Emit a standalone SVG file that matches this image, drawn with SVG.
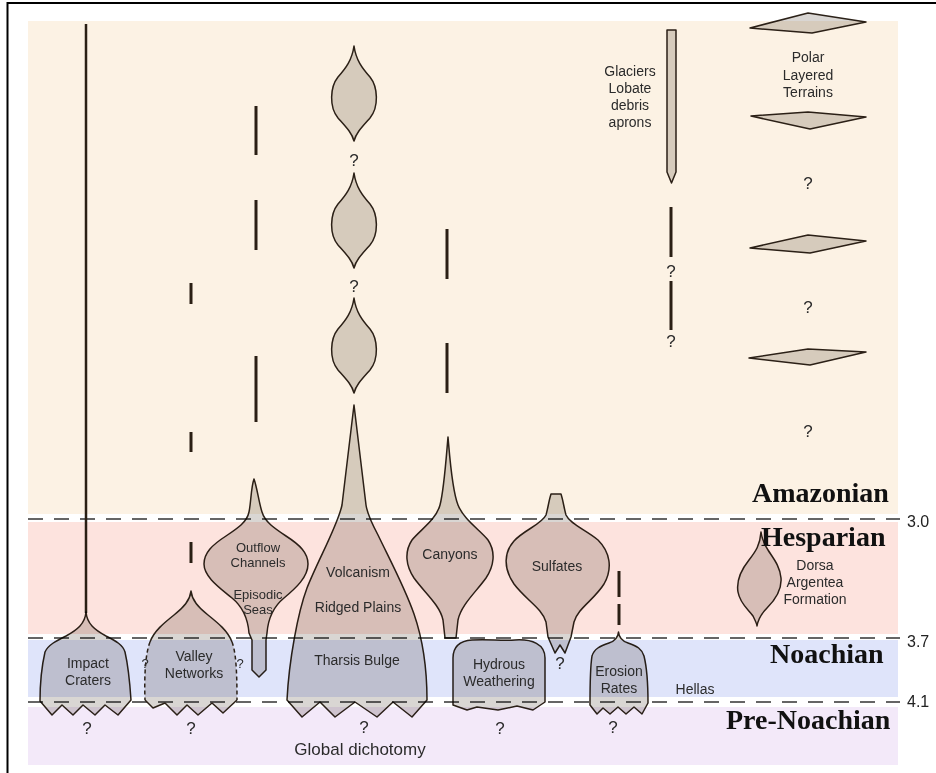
<svg xmlns="http://www.w3.org/2000/svg" width="936" height="773" viewBox="0 0 936 773">
<defs>
<style>
.shape{fill:#d9d6d3;mix-blend-mode:multiply;stroke:#2b2118;stroke-width:1.5;stroke-linejoin:round}
.fillonly{fill:#d9d6d3;mix-blend-mode:multiply;stroke:none}
.ol{fill:none;stroke:#2b2118;stroke-width:1.5;stroke-linejoin:round}
.olds{fill:none;stroke:#2b2118;stroke-width:1.5;stroke-dasharray:4 3}
.lbl{font-family:"Liberation Sans",Arial,Helvetica,sans-serif;font-size:14px;fill:#2b2b2b;text-anchor:middle}
.q{font-family:"Liberation Sans",Arial,Helvetica,sans-serif;font-size:17px;fill:#2b2b2b;text-anchor:middle}
.qs{font-family:"Liberation Sans",Arial,Helvetica,sans-serif;font-size:13px;fill:#2b2b2b;text-anchor:middle}
.era{font-family:"Liberation Serif","Times New Roman",serif;font-weight:bold;font-size:28px;fill:#111}
.num{font-family:"Liberation Sans",Arial,Helvetica,sans-serif;font-size:16px;fill:#222}
.bar{stroke:#2a1f14;stroke-width:3;fill:none}
.div{stroke:#333;stroke-width:1.5;stroke-dasharray:15 11;fill:none}
</style>
</defs>
<rect x="0" y="0" width="936" height="773" fill="#fff"/>
<g id="bands">
<rect x="28" y="21" width="870" height="493" fill="#fcf2e4"/>
<rect x="28" y="522" width="870" height="112" fill="#fde3de"/>
<rect x="28" y="640" width="870" height="57" fill="#dfe4fa"/>
<rect x="28" y="707" width="870" height="58" fill="#f3e9f9"/>
<line class="div" x1="28" y1="519" x2="900" y2="519"/>
<line class="div" x1="28" y1="638" x2="900" y2="638"/>
<line class="div" x1="28" y1="702" x2="900" y2="702"/>
</g>
<rect x="7.5" y="3" width="940" height="780" fill="none" stroke="#000" stroke-width="2"/>
<g id="connectors">
<line class="bar" x1="86" y1="24" x2="86" y2="613" style="stroke-width:2.5"/>
<line class="bar" x1="191" y1="283" x2="191" y2="304"/>
<line class="bar" x1="191" y1="432" x2="191" y2="452"/>
<line class="bar" x1="191" y1="542" x2="191" y2="563"/>
<line class="bar" x1="256" y1="106" x2="256" y2="155"/>
<line class="bar" x1="256" y1="200" x2="256" y2="250"/>
<line class="bar" x1="256" y1="356" x2="256" y2="422"/>
<line class="bar" x1="447" y1="229" x2="447" y2="279"/>
<line class="bar" x1="447" y1="343" x2="447" y2="393"/>
<line class="bar" x1="619" y1="571" x2="619" y2="597"/>
<line class="bar" x1="619" y1="604" x2="619" y2="625"/>
<line class="bar" x1="671" y1="207" x2="671" y2="257"/>
<line class="bar" x1="671" y1="281" x2="671" y2="330"/>
</g>
<g id="impact-craters">
<path class="shape" d="M86,612 C87,624 95,630 106,636 C116,641 123,645 125,652 C128,665 130,685 131,700 L118,715 L105,705 L95,715 L83,705 L73,715 L62,705 L52,715 L40,701 C40,685 42,665 45,652 C48,645 56,641 66,636 C77,630 85,624 86,612 Z"/>
<text class="lbl" x="88" y="668">Impact</text>
<text class="lbl" x="88" y="685">Craters</text>
<text class="q" x="87" y="734">?</text>
</g>
<g id="valley-networks">
<path class="fillonly" d="M191,591 C192,601 199,608 208,615 C218,623 228,631 232,642 C236,652 237,672 237,700 L223,713 L212,703 L198,715 L187,705 L177,715 L165,703 L153,708 L145,700 C144,672 146,652 150,642 C154,631 164,623 174,615 C183,608 190,601 191,591 Z"/>
<path class="ol" d="M150,642 C154,631 164,623 174,615 C183,608 190,601 191,591 C192,601 199,608 208,615 C218,623 228,631 232,642"/>
<path class="olds" d="M150,642 C146,652 144,672 145,700 M232,642 C236,652 237,672 237,700"/>
<path class="ol" d="M145,700 L153,708 L165,703 L177,715 L187,705 L198,715 L212,703 L223,713 L237,700"/>
<text class="lbl" x="194" y="661">Valley</text>
<text class="lbl" x="194" y="678">Networks</text>
<text class="qs" x="145" y="668">?</text>
<text class="qs" x="240" y="668">?</text>
<text class="q" x="191" y="734">?</text>
</g>
<g id="outflow-channels">
<path class="shape" d="M254,479 C251,487 251,503 249,512 C247,522 238,528 226,536 C212,545 204,553 204,564 C204,577 220,588 232,598 C243,607 248,620 249,633 L252,640 L252,670 L259,677 L266,670 L266,640 L267,633 C268,620 273,607 284,598 C296,588 308,577 308,564 C308,553 300,545 286,536 C274,528 265,522 262,512 C259,503 257,487 254,479 Z"/>
<text class="lbl" x="258" y="552" style="font-size:13px">Outflow</text>
<text class="lbl" x="258" y="567" style="font-size:13px">Channels</text>
<text class="lbl" x="258" y="599" style="font-size:13px">Episodic</text>
<text class="lbl" x="258" y="614" style="font-size:13px">Seas</text>
</g>
<g id="volcanism">
<path class="shape" d="M354,46 C356,60 362,68 370,77 C378,87 379,107 370,118 C362,127 356,133 354,141 C352,133 346,127 338,118 C329,107 330,87 338,77 C346,68 352,60 354,46 Z"/>
<text class="q" x="354" y="166">?</text>
<path class="shape" d="M354,173 C356,187 362,195 370,204 C378,214 379,234 370,245 C362,254 356,260 354,268 C352,260 346,254 338,245 C329,234 330,214 338,204 C346,195 352,187 354,173 Z"/>
<text class="q" x="354" y="292">?</text>
<path class="shape" d="M354,298 C356,312 362,320 370,329 C378,339 379,359 370,370 C362,379 356,385 354,393 C352,385 346,379 338,370 C329,359 330,339 338,329 C346,320 352,312 354,298 Z"/>
<path class="shape" d="M354,405 L342,505 C338,525 318,560 307,588 C298,612 289,660 287,700 L302,717 L320,702 L335,717 L355,702 L377,717 L393,702 L412,717 L427,700 C427,668 423,640 414,614 C405,588 390,560 378,535 C370,520 367,512 366,505 Z"/>
<text class="lbl" x="358" y="577">Volcanism</text>
<text class="lbl" x="358" y="612">Ridged Plains</text>
<text class="lbl" x="357" y="665">Tharsis Bulge</text>
<text class="q" x="364" y="733">?</text>
<text class="lbl" x="360" y="755" style="font-size:17px">Global dichotomy</text>
</g>
<g id="canyons">
<path class="shape" d="M448,437 C446,460 444,490 440,505 C436,520 420,530 412,540 C404,552 406,566 414,578 C424,592 440,605 443,620 L445,638 L456,638 L458,620 C461,605 476,592 486,578 C494,566 496,552 488,540 C480,530 464,520 458,505 C452,490 450,460 448,437 Z"/>
<text class="lbl" x="450" y="559">Canyons</text>
</g>
<g id="sulfates">
<path class="shape" d="M551,494 L561,494 C563,500 564,508 566,515 C570,524 586,530 598,540 C610,552 613,568 604,584 C594,600 578,608 574,622 L571,637 L565,653 L560,645 L555,653 L548,637 L546,622 C542,608 526,600 514,584 C503,568 504,552 514,541 C524,530 542,524 546,515 C548,508 549,500 551,494 Z"/>
<text class="lbl" x="557" y="571">Sulfates</text>
<text class="q" x="560" y="669">?</text>
</g>
<g id="hydrous-weathering">
<path class="shape" d="M453,705 L453,658 C453,647 459,641 472,640 C490,639 500,641 515,640 C532,639 545,644 545,658 L545,702 L533,710 L517,706 L498,710 L477,707 L467,710 Z"/>
<text class="lbl" x="499" y="669">Hydrous</text>
<text class="lbl" x="499" y="686">Weathering</text>
<text class="q" x="500" y="734">?</text>
</g>
<g id="erosion-rates">
<path class="shape" d="M618.5,632 C619,638 622,641 628,643 C637,646 642,649 644,656 C647,668 648,690 648,703 L642,714 L634,707 L626,714 L618,707 L610,714 L603,708 L597,714 L590,705 C590,690 590,668 592,656 C594,649 600,646 609,643 C615,641 618,638 618.5,632 Z"/>
<text class="lbl" x="619" y="676">Erosion</text>
<text class="lbl" x="619" y="693">Rates</text>
<text class="q" x="613" y="733">?</text>
</g>
<g id="hellas">
<text class="lbl" x="695" y="694">Hellas</text>
</g>
<g id="dorsa-argentea">
<path class="shape" d="M761,532 C760,545 756,551 749,560 C741,570 736,580 738,592 C740,604 749,610 753,616 C755,620 757,624 757,626 C758,620 761,614 767,608 C776,599 782,590 781,578 C780,566 773,558 768,550 C764,544 762,540 761,532 Z"/>
<text class="lbl" x="815" y="570">Dorsa</text>
<text class="lbl" x="815" y="587">Argentea</text>
<text class="lbl" x="815" y="604">Formation</text>
</g>
<g id="glaciers">
<path class="shape" d="M667,30 L676,30 L676,172 L671.5,183 L667,172 Z"/>
<text class="lbl" x="630" y="76">Glaciers</text>
<text class="lbl" x="630" y="93">Lobate</text>
<text class="lbl" x="630" y="110">debris</text>
<text class="lbl" x="630" y="127">aprons</text>
<text class="q" x="671" y="277">?</text>
<text class="q" x="671" y="347">?</text>
</g>
<g id="polar-layered-terrains">
<path class="shape" d="M750,28 L808,13 L866,22 L812,33 Z"/>
<text class="lbl" x="808" y="62">Polar</text>
<text class="lbl" x="808" y="80">Layered</text>
<text class="lbl" x="808" y="97">Terrains</text>
<path class="shape" d="M751,116 L808,112 L866,117 L810,129 Z"/>
<text class="q" x="808" y="189">?</text>
<path class="shape" d="M750,248 L808,235 L866,241 L810,253 Z"/>
<text class="q" x="808" y="313">?</text>
<path class="shape" d="M749,358 L808,349 L866,352 L810,365 Z"/>
<text class="q" x="808" y="437">?</text>
</g>
<g id="periods">
<text class="era" x="752" y="502">Amazonian</text>
<text class="era" x="761" y="546">Hesparian</text>
<text class="era" x="770" y="663">Noachian</text>
<text class="era" x="726" y="729">Pre-Noachian</text>
<text class="num" x="907" y="527">3.0</text>
<text class="num" x="907" y="647">3.7</text>
<text class="num" x="907" y="707">4.1</text>
</g>
</svg>
